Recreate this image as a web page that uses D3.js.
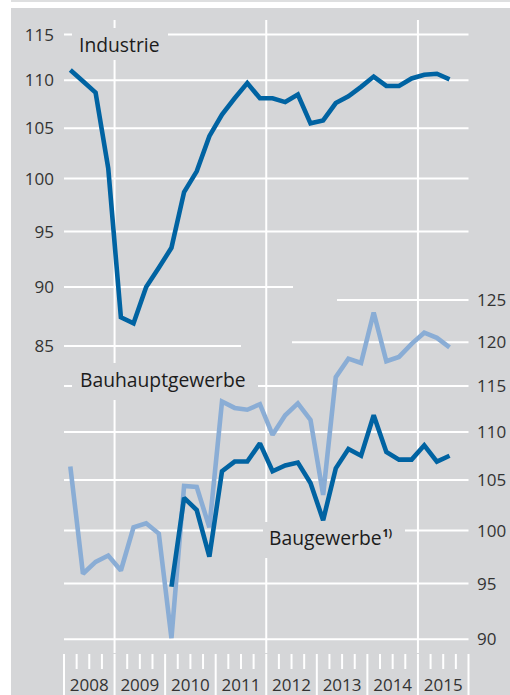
<!DOCTYPE html>
<html>
<head>
<meta charset="utf-8">
<script src="https://cdn.jsdelivr.net/npm/d3@7"></script>
<style>
  body { margin: 0; background: #fff; }
  text { font-family: "Open Sans", sans-serif; }
</style>
</head>
<body>
<div id="chart"></div>
<script>
'use strict'

// quarterly values, 2008 Q1 .. 2015 Q3
const years = [2008, 2009, 2010, 2011, 2012, 2013, 2014, 2015]
const industrie = [111.1, 109.9, 108.7, 101.0, 87.4, 86.9, 90.0, 91.7, 93.5, 98.7, 100.7, 104.2,
  106.4, 108.1, 109.7, 108.1, 108.1, 107.7, 108.5, 105.5, 105.8, 107.6, 108.3, 109.3,
  110.4, 109.4, 109.4, 110.2, 110.6, 110.7, 110.1]
const bauhaupt = [106.4, 95.9, 97.0, 97.6, 96.2, 100.3, 100.7, 99.7, 90.1, 104.4, 104.3, 100.3,
  113.3, 112.6, 112.4, 113.0, 109.7, 111.8, 113.1, 111.3, 103.5, 116.0, 118.1, 117.6,
  123.5, 117.8, 118.3, 119.8, 121.1, 120.5, 119.4]
const baugewerbe = [null, null, null, null, null, null, null, null, 94.7, 103.2, 102.0, 97.5,
  105.9, 106.9, 106.9, 108.8, 105.9, 106.5, 106.8, 104.7, 101.0, 106.2, 108.2, 107.5,
  111.8, 107.9, 107.1, 107.1, 108.6, 106.9, 107.5]
const leftTicks = [85, 90, 95, 100, 105, 110, 115]
const rightTicks = [90, 95, 100, 105, 110, 115, 120, 125]

////////////////////////////////////
//////////// svg setup /////////////
////////////////////////////////////

const W = 510, H = 695
const bg = '#d5d6d8'
const dark = '#0063a2'
const light = '#8aadd5'

const svg = d3.select('#chart').append('svg')
  .attr('width', W).attr('height', H)

svg.append('rect').attr('x', 11).attr('y', 0).attr('width', W - 11).attr('height', 2).attr('fill', '#dedfe0')
svg.append('rect').attr('x', 11).attr('y', 8).attr('width', W - 11).attr('height', H - 8).attr('fill', bg)

const nq = years.length * 4
const x = d3.scaleLinear().domain([0, nq]).range([64, 468.5])
const yL = d3.scaleLog().domain([85, 115]).range([346, 34.5])
const yR = d3.scaleLog().domain([90, 125]).range([639.3, 300])

const grid = svg.append('g').attr('stroke', '#fff').attr('stroke-width', 2)

// horizontal grid, left scale (lower lines shortened where the right scale starts)
const leftEnd = { 85: 241, 90: 293 }
grid.selectAll('.gl').data(leftTicks).join('line')
  .attr('x1', x(0)).attr('x2', d => leftEnd[d] || x(nq))
  .attr('y1', d => yL(d)).attr('y2', d => yL(d))

// horizontal grid, right scale
const rightStart = { 125: 337, 120: 292 }
grid.selectAll('.gr').data(rightTicks).join('line')
  .attr('x1', d => rightStart[d] || x(0)).attr('x2', x(nq))
  .attr('y1', d => yR(d)).attr('y2', d => yR(d))

// vertical grid every three years
grid.selectAll('.gv').data([1, 4, 7]).join('line')
  .attr('x1', d => x(d * 4)).attr('x2', d => x(d * 4))
  .attr('y1', 20).attr('y2', 653)

// quarter ticks along the bottom
grid.selectAll('.tk').data(d3.range(nq + 1)).join('line')
  .attr('x1', d => x(d)).attr('x2', d => x(d))
  .attr('y1', 654).attr('y2', d => d % 4 === 0 ? H : 669)

// axis labels
const axisText = svg.append('g').attr('font-size', 17).attr('fill', '#333')
axisText.selectAll('.tl').data(leftTicks).join('text')
  .attr('x', 54).attr('y', d => yL(d)).attr('dy', '0.36em')
  .attr('text-anchor', 'end').text(d => d)
axisText.selectAll('.tr').data(rightTicks).join('text')
  .attr('x', 477).attr('y', d => yR(d)).attr('dy', '0.36em')
  .text(d => d)
axisText.selectAll('.ty').data(years).join('text')
  .attr('x', (d, i) => x(i * 4 + 2)).attr('y', 691)
  .attr('text-anchor', 'middle').text(d => d)

// series labels with background patches over the grid
function label(txt, lx, ly, box) {
  svg.append('rect').attr('x', box[0]).attr('y', box[1])
    .attr('width', box[2] - box[0]).attr('height', box[3] - box[1]).attr('fill', bg)
  return svg.append('text').attr('x', lx).attr('y', ly)
    .attr('font-size', 19.3).attr('fill', '#1c1c1c').text(txt)
}
label('Industrie', 79, 52, [72, 28, 168, 60])
label('Bauhauptgewerbe', 80, 387, [72, 363, 258, 400])
label('Baugewerbe', 269, 545, [263, 522, 405, 558])
  .append('tspan').attr('font-size', 10.5).attr('font-weight', 'bold')
  .attr('dy', -8).attr('dx', 1).text('1)')

// lines
const lineL = d3.line().defined(d => d != null)
  .x((d, i) => x(i + 0.5)).y(d => yL(d))
const lineR = d3.line().defined(d => d != null)
  .x((d, i) => x(i + 0.5)).y(d => yR(d))

const draw = (d, gen, col) => svg.append('path')
  .attr('d', gen(d)).attr('fill', 'none').attr('stroke', col)
  .attr('stroke-width', 4.6).attr('stroke-linejoin', 'miter').attr('stroke-miterlimit', 2)

draw(bauhaupt, lineR, light)
draw(baugewerbe, lineR, dark)
draw(industrie, lineL, dark)
</script>
</body>
</html>
